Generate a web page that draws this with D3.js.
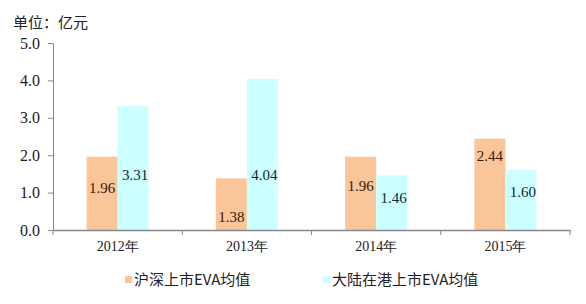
<!DOCTYPE html>
<html><head><meta charset="utf-8">
<script src="https://cdn.jsdelivr.net/npm/d3@7"></script>
<style>body{margin:0;background:#fff}svg{display:block}</style>
</head><body>
<svg id="c" width="586" height="304"></svg>
<script>
const categories = ["2012年","2013年","2014年","2015年"];
const seriesNames = ["沪深上市EVA均值","大陆在港上市EVA均值"];
const hushen = [1.96, 1.38, 1.96, 2.44];
const dalu = [3.31, 4.04, 1.46, 1.60];
// label anchor heights in data units (as placed in the original)
const hushenLabelAt = [1.12, 0.35, 1.18, 1.98];
const daluLabelAt = [1.47, 1.47, 0.86, 1.02];
const yTicks = [0,1,2,3,4,5];
const colors = ["#FAC598", "#CCFFFF"];

const svg = d3.select("#c");
const m = {l:53, r:16, t:43, b:74};
const W = 586, H = 304;
const x = d3.scaleBand().domain(categories).range([m.l, W - m.r]);
const y = d3.scaleLinear().domain([0,5]).range([H - m.b, m.t]);
const barW = 31;
const serif = "'Liberation Serif','Times New Roman',serif";
const cjk = "'Noto Sans CJK SC',sans-serif";

svg.append("text").attr("x", 13).attr("y", 28).text("单位：亿元")
  .attr("font-family", cjk).attr("font-size", 15).attr("fill", "#222");

// y axis
const ya = svg.append("g").attr("transform", `translate(${m.l},0)`)
  .call(d3.axisLeft(y).tickValues(yTicks).tickFormat(d3.format(".1f")).tickSizeOuter(0).tickSize(5));
ya.select(".domain").attr("stroke", "#888");
ya.selectAll(".tick line").attr("stroke", "#888");
ya.selectAll(".tick text").attr("font-family", serif).attr("font-size", 16).attr("fill", "#222").attr("x", -13);

// bars
const data = categories.map((c,i)=>({c, a:hushen[i], b:dalu[i], la:hushenLabelAt[i], lb:daluLabelAt[i]}));
const cx = c => x(c) + x.bandwidth()/2;
svg.selectAll(".ba").data(data).join("rect")
  .attr("x", d => cx(d.c) - barW).attr("width", barW)
  .attr("y", d => y(d.a)).attr("height", d => y(0) - y(d.a)).attr("fill", colors[0]);
svg.selectAll(".bb").data(data).join("rect")
  .attr("x", d => cx(d.c)).attr("width", barW)
  .attr("y", d => y(d.b)).attr("height", d => y(0) - y(d.b)).attr("fill", colors[1]);

svg.selectAll(".la").data(data).join("text")
  .attr("x", d => cx(d.c) - barW/2).attr("y", d => y(d.la)).attr("dy", "0.35em")
  .attr("text-anchor", "middle").text(d => d.a.toFixed(2))
  .attr("font-family", serif).attr("font-size", 15).attr("fill", "#3a1a08");
svg.selectAll(".lb").data(data).join("text")
  .attr("x", d => cx(d.c) + barW/2 + 2).attr("y", d => y(d.lb)).attr("dy", "0.35em")
  .attr("text-anchor", "middle").text(d => d.b.toFixed(2))
  .attr("font-family", serif).attr("font-size", 15).attr("fill", "#0d2a3a");

// x axis
const xa = svg.append("g").attr("transform", `translate(0,${y(0)})`)
  .call(d3.axisBottom(x).tickSize(0).tickSizeOuter(0));
xa.select(".domain").attr("stroke", "#888").attr("stroke-width", 1.5);
xa.selectAll(".tick text").attr("font-family", serif).attr("font-size", 14).attr("fill", "#222").attr("dy", "1.25em");
const bounds = categories.map(c => x(c)).concat([x(categories[categories.length-1]) + x.bandwidth()]);
svg.selectAll(".xt").data(bounds).join("line")
  .attr("x1", d=>d).attr("x2", d=>d).attr("y1", y(0)).attr("y2", y(0)+5).attr("stroke", "#888");

// legend
const lg = [{x:125, t:seriesNames[0], c:colors[0]}, {x:323, t:seriesNames[1], c:colors[1]}];
lg.forEach(l => {
  svg.append("rect").attr("x", l.x).attr("y", 276).attr("width", 7).attr("height", 7).attr("fill", l.c);
  svg.append("text").attr("x", l.x + 9).attr("y", 285).text(l.t)
    .attr("font-family", cjk).attr("font-size", 15).attr("fill", "#222");
});
</script>
</body></html>
